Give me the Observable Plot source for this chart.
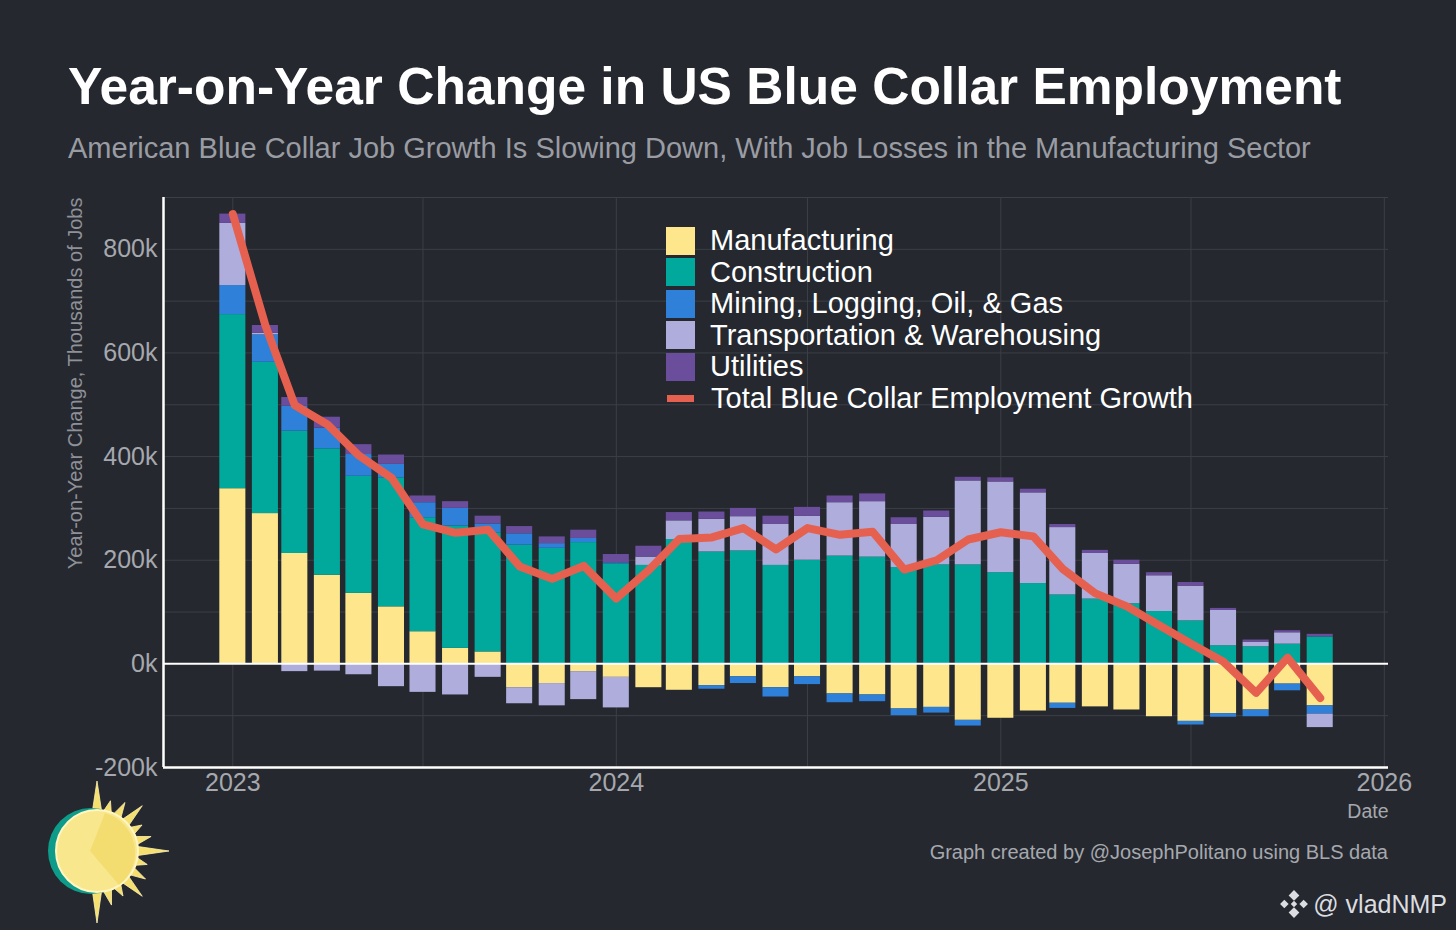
<!DOCTYPE html>
<html>
<head>
<meta charset="utf-8">
<script src="https://cdn.jsdelivr.net/npm/d3@7"></script>
<script src="https://cdn.jsdelivr.net/npm/@observablehq/plot@0.6"></script>
<style>
html,body{margin:0;padding:0;background:#25282f;}
#page{position:relative;width:1456px;height:930px;background:#25282f;font-family:"Liberation Sans",Arial,Helvetica,sans-serif;overflow:hidden;}
#title{position:absolute;left:68px;top:61px;font-size:51.5px;line-height:1;font-weight:bold;color:#ffffff;white-space:nowrap;}
#subtitle{position:absolute;left:68px;top:134px;font-size:29px;line-height:1;color:#9a9ca3;white-space:nowrap;}
#chart{position:absolute;left:0;top:180px;}
#legend{position:absolute;left:666px;top:225px;}
.lrow{display:flex;align-items:center;height:31.5px;}
.sw{width:29px;height:28px;margin-right:15px;}
.swl{width:27px;height:7px;margin:0 17px 0 1px;}
.lt{font-size:29px;color:#ffffff;line-height:1;white-space:nowrap;}
#caption{position:absolute;right:68px;top:842px;font-size:20px;line-height:1;color:#a6a8ae;white-space:nowrap;}
#wm{position:absolute;right:9px;top:889px;display:flex;align-items:center;font-size:25px;line-height:1;color:#dcdde0;white-space:nowrap;}
#sun{position:absolute;left:40px;top:775px;}
</style>
</head>
<body>
<div id="page">
  <div id="title">Year-on-Year Change in US Blue Collar Employment</div>
  <div id="subtitle">American Blue Collar Job Growth Is Slowing Down, With Job Losses in the Manufacturing Sector</div>
  <div id="chart"></div>
  <div id="legend"></div>
  <div id="caption">Graph created by @JosephPolitano using BLS data</div>
  <div id="wm"><svg width="30" height="30" viewBox="0 0 28 28" style="margin-right:4px"><g fill="#dcdde0"><path d="M14 1 L19 6 L14 11 L9 6Z"/><path d="M14 17 L19 22 L14 27 L9 22Z"/><path d="M1 14 L5 10 L9 14 L5 18Z"/><path d="M19 14 L23 10 L27 14 L23 18Z"/><path d="M14 11 L17 14 L14 17 L11 14Z"/></g></svg>@ vladNMP</div>
  <svg id="sun" width="135" height="155" viewBox="0 0 135 155"></svg>
</div>
<script>
// ---- Data (thousands of jobs, year-on-year change) ----
const months = ["2023-01","2023-02","2023-03","2023-04","2023-05","2023-06","2023-07","2023-08","2023-09","2023-10","2023-11","2023-12",
                "2024-01","2024-02","2024-03","2024-04","2024-05","2024-06","2024-07","2024-08","2024-09","2024-10","2024-11","2024-12",
                "2025-01","2025-02","2025-03","2025-04","2025-05","2025-06","2025-07","2025-08","2025-09","2025-10","2025-11"];
const seriesNames = ["Manufacturing","Construction","Mining, Logging, Oil, & Gas","Transportation & Warehousing","Utilities"];
const manufacturing  = [338,290,213,171,136,110,62,30,23,-46,-38,-15,-26,-46,-51,-42,-25,-46,-25,-58,-60,-87,-84,-109,-105,-91,-76,-83,-89,-102,-111,-96,-89,-39,-81];
const construction   = [336,292,236,244,226,249,220,236,230,229,223,234,193,190,240,216,218,190,200,208,206,186,191,191,176,155,133,125,116,101,83,35,33,38,52];
const mining         = [56,53,48,40,42,26,29,34,17,22,9,8,2,0,0,-7,-13,-18,-15,-17,-13,-13,-11,-11,0,0,-10,0,0,0,-7,-7,-13,-13,-16];
const transportation = [120,3,-15,-14,-21,-44,-55,-60,-26,-31,-43,-54,-59,16,36,63,66,79,85,103,107,83,92,162,175,175,130,88,76,69,67,68,9,22,-26];
const utilities      = [18,15,17,21,19,18,13,13,15,14,13,16,16,21,16,14,16,16,17,13,15,13,12,7,8,7,6,6,8,6,7,4,4,4,5];
const total          = [868,653,499,462,402,359,269,253,259,188,164,189,126,181,241,244,262,221,262,249,255,182,200,240,254,246,183,136,111,74,39,4,-56,12,-66];
const lineName = "Total Blue Collar Employment Growth";
const yTicks = [-200,0,200,400,600,800];
const yGrid = [-200,-100,0,100,200,300,400,500,600,700,800,900];
const xTicks = ["2023-01-01","2024-01-01","2025-01-01","2026-01-01"];
const xGrid = ["2023-01-01","2023-07-01","2024-01-01","2024-07-01","2025-01-01","2025-07-01","2026-01-01"];

const colors = ["#fde68b","#00a99c","#2f80d9","#aeaddc","#6a4e9c"];
const lineColor = "#e5604f";

// ---- Build tidy tables ----
const parseMonth = d3.utcParse("%Y-%m");
const seriesValues = [manufacturing, construction, mining, transportation, utilities];
const rows = [];
seriesNames.forEach((name, s) => {
  months.forEach((m, i) => rows.push({date: parseMonth(m), series: name, value: seriesValues[s][i]}));
});
const lineRows = months.map((m, i) => ({date: parseMonth(m), value: total[i]}));
const halfBar = 12.4 * 864e5;
const xDomain = [new Date(Date.UTC(2022, 9, 27)), new Date(Date.UTC(2026, 0, 5))];

const chart = Plot.plot({
  width: 1456,
  height: 660,
  marginTop: 17,
  marginBottom: 73,
  marginLeft: 163,
  marginRight: 68,
  x: {type: "utc", domain: xDomain},
  y: {domain: [-200, 900]},
  color: {domain: seriesNames, range: colors},
  style: {background: "transparent", color: "#a6a8ae", fontFamily: "'Liberation Sans', Arial, sans-serif", fontSize: "25px", overflow: "visible"},
  marks: [
    Plot.ruleY(yGrid, {stroke: "#3c3f47", strokeWidth: 1}),
    Plot.ruleX(xGrid.map(d => new Date(d)), {stroke: "#3c3f47", strokeWidth: 1}),
    Plot.rectY(rows, {
      x1: d => new Date(+d.date - halfBar),
      x2: d => new Date(+d.date + halfBar),
      y: "value",
      fill: "series"
    }),
    Plot.ruleY([0], {stroke: "#ffffff", strokeWidth: 2}),
    Plot.line(lineRows, {x: "date", y: "value", stroke: lineColor, strokeWidth: 8, strokeLinejoin: "round"}),
    Plot.ruleY([-200], {stroke: "#ffffff", strokeWidth: 2.5}),
    Plot.ruleX([xDomain[0]], {stroke: "#ffffff", strokeWidth: 2.5}),
    Plot.axisY({ticks: yTicks, tickFormat: d => d + "k", tickSize: 0, tickPadding: 6, label: null, fontSize: 25}),
    Plot.axisX({ticks: xTicks.map(d => new Date(d)), tickFormat: d3.utcFormat("%Y"), tickSize: 0, tickPadding: 6, label: null, fontSize: 25}),
    Plot.text(["Year-on-Year Change, Thousands of Jobs"], {frameAnchor: "top-left", rotate: -90, textAnchor: "end", lineAnchor: "middle", dx: -88, fontSize: 20, fill: "#8f9198"}),
    Plot.text(["Date"], {frameAnchor: "bottom-right", textAnchor: "end", lineAnchor: "middle", dy: 44, fontSize: 19.5, fill: "#a6a8ae"})
  ]
});
document.getElementById("chart").appendChild(chart);

// ---- Legend ----
const legend = d3.select("#legend");
seriesNames.forEach((name, i) => {
  const r = legend.append("div").attr("class", "lrow");
  r.append("div").attr("class", "sw").style("background", colors[i]);
  r.append("div").attr("class", "lt").text(name);
});
{
  const r = legend.append("div").attr("class", "lrow");
  r.append("div").attr("class", "swl").style("background", lineColor);
  r.append("div").attr("class", "lt").text(lineName);
}

// ---- Sun logo (decoration) ----
const sun = d3.select("#sun");
const cx = 57, cy = 76;
const spikeAngles = [-90,-75,-60,-45,-30,-15,0,15,30,45,60,75,90];
const spikeLens   = [70,52,56,64,52,56,72,52,56,64,52,56,72];
spikeAngles.forEach((a, i) => {
  const t = a * Math.PI / 180, w = 0.13;
  const r0 = 38, r1 = spikeLens[i];
  const p = [[cx + r0*Math.cos(t-w), cy + r0*Math.sin(t-w)], [cx + r1*Math.cos(t), cy + r1*Math.sin(t)], [cx + r0*Math.cos(t+w), cy + r0*Math.sin(t+w)]];
  sun.append("path").attr("d", "M" + p.map(q => q.join(",")).join("L") + "Z").attr("fill", "#f5df6e").attr("stroke", "#fff3b0").attr("stroke-width", 0.8);
});
sun.append("circle").attr("cx", cx - 6).attr("cy", cy).attr("r", 43).attr("fill", "#0e9c8a");
sun.append("circle").attr("cx", cx).attr("cy", cy).attr("r", 41).attr("fill", "#f9e78e").attr("stroke", "#fff6c4").attr("stroke-width", 2);
sun.append("path").attr("d", `M${cx-7},${cy} L${cx+8},${cy-38} A41,41 0 0 1 ${cx+22},${cy+34} Z`).attr("fill", "#f1db6a").attr("opacity", 0.8);
</script>
</body>
</html>
